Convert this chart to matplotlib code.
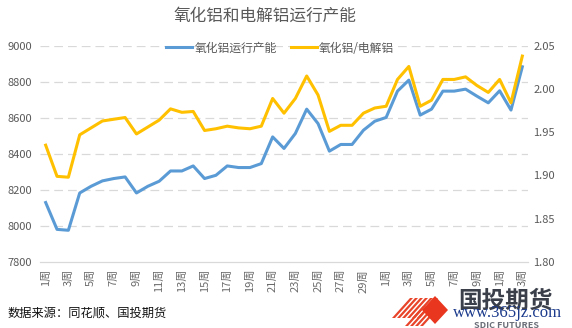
import matplotlib
matplotlib.use('Agg')
import matplotlib.pyplot as plt
from matplotlib.patches import Polygon
from matplotlib.ticker import FormatStrFormatter

plt.rcParams['font.family'] = ['Noto Sans CJK SC', 'DejaVu Sans']

# weekly data, 43 points
weeks = list(range(1, 44))
capacity = [8130, 7981, 7976, 8183, 8220, 8250, 8263, 8272, 8183, 8220,
            8248, 8305, 8305, 8333, 8263, 8281, 8333, 8324, 8324, 8346,
            8494, 8430, 8513, 8648, 8568, 8415, 8452, 8452, 8531, 8581,
            8602, 8748, 8809, 8615, 8648, 8748, 8748, 8759, 8720, 8683,
            8750, 8643, 8883]
ratio = [1.935, 1.899, 1.898, 1.947, 1.955, 1.963, 1.965, 1.967, 1.948, 1.956,
         1.964, 1.977, 1.973, 1.974, 1.952, 1.954, 1.957, 1.955, 1.954, 1.957,
         1.989, 1.972, 1.989, 2.015, 1.993, 1.951, 1.958, 1.958, 1.972, 1.978,
         1.980, 2.011, 2.026, 1.980, 1.987, 2.011, 2.011, 2.014, 2.004, 1.996,
         2.011, 1.984, 2.038]
tick_labels = ['1周', '3周', '5周', '7周', '9周', '11周', '13周', '15周', '17周',
               '19周', '21周', '23周', '25周', '27周', '29周', '1周', '3周',
               '5周', '7周', '9周', '1周', '3周']

BLUE = '#5B9BD5'
GOLD = '#FFC000'
GRAY = '#595959'
GRID = '#D9D9D9'

fig = plt.figure(figsize=(5.72, 3.28), dpi=100)
ax = fig.add_axes([40 / 572, 1 - 262 / 328, 488 / 572, (262 - 45.7) / 328])
ax2 = ax.twinx()

x = list(range(len(weeks)))
l1, = ax.plot(x, capacity, color=BLUE, lw=2.2, solid_joinstyle='round',
              label='氧化铝运行产能', zorder=3)
l2, = ax2.plot(x, ratio, color=GOLD, lw=2.2, solid_joinstyle='round',
               label='氧化铝/电解铝', zorder=3)

ax.set_xlim(-0.5, len(weeks) - 0.5)
ax.set_ylim(7800, 9000)
ax.set_yticks(range(7800, 9001, 200))
ax2.set_ylim(1.80, 2.05)
ax2.set_yticks([1.80, 1.85, 1.90, 1.95, 2.00, 2.05])
ax2.yaxis.set_major_formatter(FormatStrFormatter('%.2f'))

ax.set_xticks(x[::2])
ax.set_xticklabels(tick_labels, rotation=90, fontsize=6.8, color='#6a6a6a')

for gv in range(8000, 9001, 200):
    ax.axhline(gv, color=GRID, lw=0.9, ls=(0, (7, 4)), zorder=1)

for a in (ax, ax2):
    for s in a.spines.values():
        s.set_visible(False)
    a.tick_params(length=0, labelsize=8, colors=GRAY)
ax.spines['bottom'].set_visible(True)
ax.spines['bottom'].set_color(GRID)
ax.spines['bottom'].set_linewidth(0.9)
ax.tick_params(axis='x', pad=5, colors='#6a6a6a')
ax.tick_params(axis='y', pad=6)
ax2.tick_params(axis='y', pad=4)

fig.text(265 / 572, 1 - 16 / 328, '氧化铝和电解铝运行产能', ha='center', va='center',
         fontsize=12, color=GRAY)

fig.legend(handles=[l1, l2], loc='center', bbox_to_anchor=(280 / 572, 1 - 48 / 328),
           ncol=2, frameon=False, fontsize=8.5, labelcolor=GRAY,
           handlelength=2.2, handletextpad=0.2, columnspacing=1.2)

fig.text(8 / 572, 1 - 313 / 328, '数据来源：同花顺、国投期货', ha='left', va='center',
         fontsize=8.8, color='#111111', fontweight='medium')

# logo, drawn in pixel coords
px = fig.transFigure.inverted()


def fp(pts):
    return [px.transform((a, 328 - b)) for a, b in pts]


for k in range(6):
    off = k * 5
    fig.patches.append(Polygon(fp([(392 + off, 318), (395 + off, 318),
                                   (413 + off, 298), (410 + off, 298)]),
                               closed=True, transform=fig.transFigure,
                               color='#E8442A', lw=0))
for k in range(4):
    off = k * 5
    fig.patches.append(Polygon(fp([(405 + off, 326), (408 + off, 326),
                                   (426 + off, 306), (423 + off, 306)]),
                               closed=True, transform=fig.transFigure,
                               color='#E8442A', lw=0))
fig.patches.append(Polygon(fp([(422, 310), (435, 296), (448, 310), (435, 324)]),
                           closed=True, transform=fig.transFigure,
                           color='#E8371E', lw=0))
fig.text(505 / 572, 1 - 301 / 328, '国投期货', ha='center', va='center',
         fontsize=17, color='#3a3f4a', fontweight='bold')
fig.text(506 / 572, 1 - 325 / 328, 'SDIC FUTURES', ha='center', va='center',
         fontsize=6.5, color='#6b6f78', fontweight='bold')
fig.text(508 / 572, 1 - 313 / 328, 'www.365jz.com', ha='center', va='center',
         fontsize=12, color='#1b3a8c', family='Liberation Serif')

fig.savefig('out.png', dpi=100)
